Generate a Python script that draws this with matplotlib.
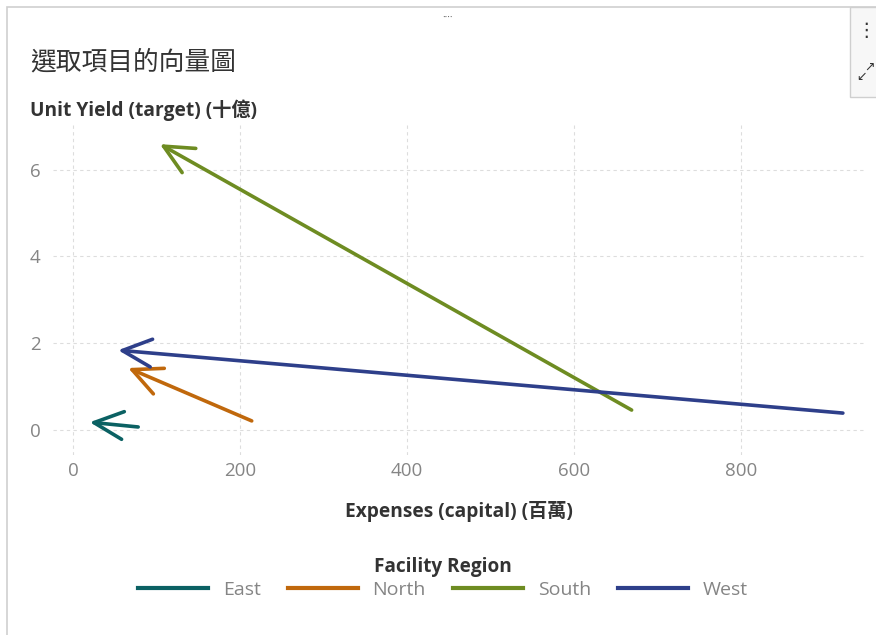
import matplotlib
matplotlib.use('Agg')
import matplotlib.pyplot as plt
from matplotlib.lines import Line2D
from matplotlib.patches import Rectangle

# vector endpoints per facility region (expenses in millions, yield in billions)
regions = ['East', 'North', 'South', 'West']
start_expenses = [78, 214, 669, 922]
start_yield = [0.07, 0.21, 0.46, 0.39]
end_expenses = [20, 66, 104, 54]
end_yield = [0.18, 1.43, 6.59, 1.84]
colors = ['#0b6163', '#c0680c', '#6e8c22', '#2e3f8a']

x_ticks = [0, 200, 400, 600, 800]
y_ticks = [0, 2, 4, 6]

plt.rcParams['font.family'] = ['Open Sans', 'Noto Sans CJK TC', 'DejaVu Sans']

W, H = 876, 635
fig = plt.figure(figsize=(W / 100, H / 100), dpi=100)


def px(x, y):
	return x / W, 1 - y / H


# panel chrome
fig.add_artist(Rectangle(px(7, 640), (W + 10) / W, 633 / H, transform=fig.transFigure,
	fill=False, edgecolor='#cfcfcf', lw=1.2))
fig.add_artist(Rectangle(px(850, 97), 40 / W, 90 / H, transform=fig.transFigure,
	facecolor='#f7f7f7', edgecolor='#cfcfcf', lw=1))
fig.text(*px(866, 30), '⋮', ha='center', va='center', fontsize=14, color='#333333',
	family=['DejaVu Sans'])
fig.text(*px(861, 77), '↙', ha='center', va='center', fontsize=9, color='#333333',
	family=['DejaVu Sans'])
fig.text(*px(869, 67), '↗', ha='center', va='center', fontsize=9, color='#333333',
	family=['DejaVu Sans'])
fig.text(*px(447, 18), '····', ha='center', va='center', fontsize=7, color='#555555')

ax = fig.add_axes([53 / W, 1 - 455 / H, 812 / W, 333 / H])
ax.set_xlim(-24, 948.5)
ax.set_ylim(-0.576, 7.1)
for s in ax.spines.values():
	s.set_visible(False)
ax.set_xticks(x_ticks)
ax.set_yticks(y_ticks)
ax.tick_params(length=0, labelsize=13.5, labelcolor='#858585')
ax.tick_params(axis='x', pad=5)
ax.tick_params(axis='y', pad=9)
ax.grid(True, color='#dddddd', linestyle=(0, (3, 3)), lw=0.8)
ax.set_axisbelow(True)

for i, name in enumerate(regions):
	ax.annotate('', xy=(end_expenses[i], end_yield[i]),
		xytext=(start_expenses[i], start_yield[i]),
		arrowprops=dict(arrowstyle='->,head_length=1.05,head_width=0.5',
			mutation_scale=20, lw=2.6, color=colors[i],
			shrinkA=0, shrinkB=0))

fig.text(*px(30, 63), '選取項目的向量圖', fontsize=18.5, color='#333333', va='center')
fig.text(*px(30, 110), 'Unit Yield (target) (十億)', fontsize=13.8, fontweight='bold',
	color='#333333', va='center')
fig.text(*px(459, 512), 'Expenses (capital) (百萬)', fontsize=13.8, fontweight='bold',
	color='#333333', va='center', ha='center')

handles = [Line2D([], [], color=c, lw=3) for c in colors]
leg = fig.legend(handles, regions, loc='center', bbox_to_anchor=px(443, 578), ncol=4,
	frameon=False, title='Facility Region', handlelength=3.6, handletextpad=0.75,
	columnspacing=1.4, fontsize=14, borderpad=0, labelspacing=0.2)
leg.get_title().set_fontweight('bold')
leg.get_title().set_fontsize(13.7)
leg.get_title().set_color('#333333')
for t in leg.get_texts():
	t.set_color('#858585')

fig.savefig('out.png', dpi=100)
